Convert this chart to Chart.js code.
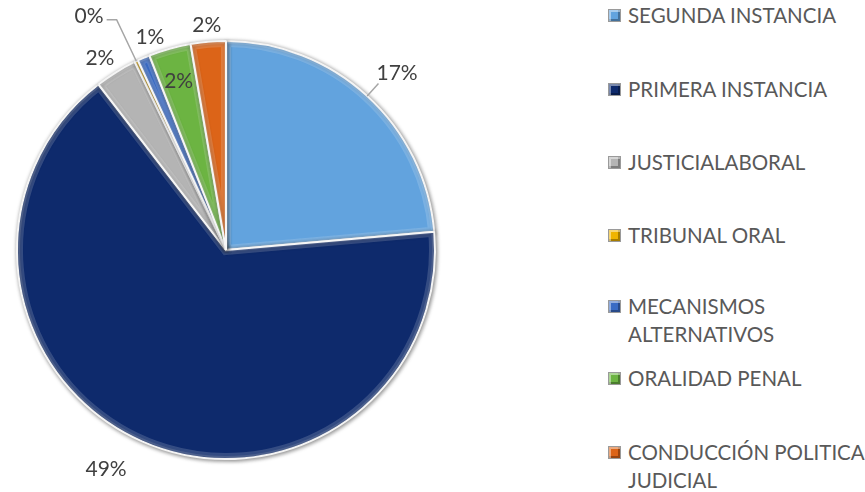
<!DOCTYPE html>
<html>
<head>
<meta charset="utf-8">
<script src="https://cdn.jsdelivr.net/npm/chart.js@4.4.0/dist/chart.umd.min.js"></script>
<style>
  html, body { margin: 0; padding: 0; background: #fff; }
  #wrap { position: relative; width: 865px; height: 492px; overflow: hidden; }
  #pieBox { position: absolute; left: 0; top: 0; width: 452px; height: 492px; }
  #leyenda { position: absolute; left: 608px; top: 0; width: 257px; height: 492px;
    font-family: Lato, sans-serif; font-size: 20.5px; color: #595959; }
  .item { position: absolute; left: 0; width: 257px; line-height: 28px; white-space: nowrap; }
  .marca { position: absolute; left: 0; top: 8px; width: 11px; height: 11px;
    border: 1px solid #9a9a9a; box-shadow: inset 2px 2px 0 rgba(255,255,255,.45), inset -2px -2px 0 rgba(0,0,0,.3); }
  .texto { margin-left: 20px; }
</style>
</head>
<body>
<div id="wrap">
  <div id="pieBox"><canvas id="grafico"></canvas></div>
  <div id="leyenda"></div>
</div>
<script>
const categorias = [
  ['SEGUNDA INSTANCIA'],
  ['PRIMERA INSTANCIA'],
  ['JUSTICIALABORAL'],
  ['TRIBUNAL ORAL'],
  ['MECANISMOS', 'ALTERNATIVOS'],
  ['ORALIDAD PENAL'],
  ['CONDUCCIÓN POLITICA', 'JUDICIAL']
];
const valores = [17.4, 48.6, 2.4, 0.2, 0.7, 2.4, 2.0];

const colores = ['#62a3de', '#0e2a6c', '#b4b4b4', '#f0b400', '#3a6bc4', '#6cb442', '#dc6418'];

// posicion de las etiquetas (factor del radio, giro en grados) y guias
const radioEtiqueta = [1.08, 1.195, 1.1, 1.22, 1.08, 0.84, 1.08];
const giroEtiqueta = [0, 5, -1.5, 0, 3.5, 0, 0];
const conGuia = [true, false, false, true, false, false, false];
const topLeyenda = [1, 75, 148, 221, 292, 364, 438];

const etiquetas = {
  id: 'etiquetas',
  beforeDatasetsDraw(chart) {
    const ctx = chart.ctx;
    ctx.save();
    ctx.shadowColor = 'rgba(0,0,0,0.45)';
    ctx.shadowBlur = 4;
    ctx.shadowOffsetX = 1;
    ctx.shadowOffsetY = 1;
  },
  afterDatasetsDraw(chart) {
    const ctx = chart.ctx;
    ctx.restore();
    const meta = chart.getDatasetMeta(0);

    // bisel suave en cada sector
    meta.data.forEach(arc => {
      const p = arc.getProps(['x', 'y', 'startAngle', 'endAngle', 'outerRadius'], true);
      ctx.save();
      ctx.beginPath();
      ctx.moveTo(p.x, p.y);
      ctx.arc(p.x, p.y, p.outerRadius - 1, p.startAngle, p.endAngle);
      ctx.closePath();
      ctx.clip();
      ctx.lineWidth = 10;
      ctx.strokeStyle = 'rgba(255,255,255,0.16)';
      ctx.stroke();
      ctx.lineWidth = 4;
      ctx.strokeStyle = 'rgba(255,255,255,0.12)';
      ctx.stroke();
      ctx.restore();
    });

    ctx.save();
    ctx.font = '21px Lato';
    ctx.fillStyle = '#404040';
    ctx.strokeStyle = '#a6a6a6';
    ctx.lineWidth = 1.5;
    ctx.textBaseline = 'middle';
    meta.data.forEach((arc, i) => {
      const p = arc.getProps(['x', 'y', 'startAngle', 'endAngle', 'outerRadius'], true);
      const mid = (p.startAngle + p.endAngle) / 2 + giroEtiqueta[i] * Math.PI / 180;
      const r = p.outerRadius * radioEtiqueta[i];
      const x = p.x + Math.cos(mid) * r;
      const y = p.y + Math.sin(mid) * r;
      const txt = Math.round(valores[i]) + '%';
      if (conGuia[i]) {
        const ex = p.x + Math.cos(mid) * p.outerRadius;
        const ey = p.y + Math.sin(mid) * p.outerRadius;
        ctx.beginPath();
        ctx.moveTo(ex, ey);
        ctx.lineTo(x, y);
        if (x < p.x) {
          ctx.lineTo(x - 10, y);
          ctx.stroke();
          ctx.textAlign = 'right';
          ctx.fillText(txt, x - 13, y - 3);
        } else {
          ctx.stroke();
          ctx.textAlign = 'left';
          ctx.fillText(txt, x - 2, y - 10);
        }
      } else {
        ctx.textAlign = 'center';
        ctx.fillText(txt, x, y);
      }
    });
    ctx.restore();
  }
};

const chart = new Chart(document.getElementById('grafico'), {
  type: 'pie',
  data: {
    labels: categorias.map(c => c.join(' ')),
    datasets: [{
      data: valores,
      backgroundColor: colores,
      borderColor: '#f4f4f4',
      borderWidth: 2
    }]
  },
  options: {
    responsive: true,
    maintainAspectRatio: false,
    animation: false,
    layout: { padding: { top: 40, bottom: 32, left: 6, right: 6 } },
    plugins: {
      legend: { display: false },
      tooltip: { enabled: false }
    }
  },
  plugins: [etiquetas]
});

// leyenda en html
const leyenda = document.getElementById('leyenda');
categorias.forEach((c, i) => {
  const item = document.createElement('div');
  item.className = 'item';
  item.style.top = topLeyenda[i] + 'px';
  item.innerHTML = '<span class="marca" style="background:' + colores[i] + '"></span>' +
    '<div class="texto">' + c.join('<br>') + '</div>';
  leyenda.appendChild(item);
});
</script>
</body>
</html>
